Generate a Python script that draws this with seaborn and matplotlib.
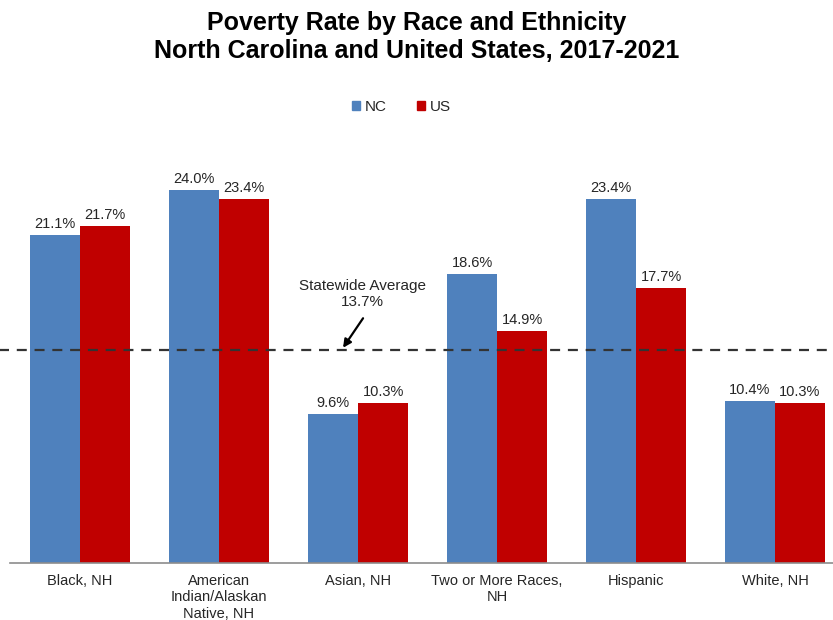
import matplotlib
matplotlib.use("Agg")
import matplotlib.pyplot as plt
import seaborn as sns
import pandas as pd
from matplotlib.patches import Patch

categories = ["Black, NH", "American\nIndian/Alaskan\nNative, NH", "Asian, NH",
              "Two or More Races,\nNH", "Hispanic", "White, NH"]
nc_values = [21.1, 24.0, 9.6, 18.6, 23.4, 10.4]
us_values = [21.7, 23.4, 10.3, 14.9, 17.7, 10.3]
series = ["NC", "US"]
statewide_avg = 13.7

sns.set_theme(style="white")
plt.rcParams['font.family'] = ['Liberation Sans', 'DejaVu Sans']

df = pd.DataFrame({
    "category": categories * 2,
    "value": nc_values + us_values,
    "series": [series[0]] * len(categories) + [series[1]] * len(categories),
})

fig = plt.figure(figsize=(8.33, 6.20), dpi=100)
ax = fig.add_axes([10/833, 57/620, 823/833, (563-174.5)/620])
palette = {"NC": "#4F81BD", "US": "#C00000"}
sns.barplot(data=df, x="category", y="value", hue="series", order=categories,
            hue_order=series, palette=palette, width=0.72, saturation=1,
            linewidth=0, ax=ax, legend=False)

for cont in ax.containers:
    ax.bar_label(cont, fmt="%.1f%%", padding=3, fontsize=10.5, color="#262626")

ax.set_ylim(0, 25)
ax.set_xlim(-0.504, 5.417)
ax.set_yticks([])
ax.set_xlabel("")
ax.set_ylabel("")
for s in ["top", "right", "left"]:
    ax.spines[s].set_visible(False)
ax.spines["bottom"].set_color("#8c8c8c")
ax.spines["bottom"].set_linewidth(1.2)
ax.tick_params(axis="x", length=0, pad=8, labelsize=10.5, colors="#262626")
ax.axhline(statewide_avg, color="#333333", lw=1.6, ls=(0, (4.5, 3.5)), xmin=-0.02, clip_on=False)

ax.text(2.03, 16.35, "Statewide Average\n13.7%", ha="center", va="bottom",
        fontsize=11, color="#262626", linespacing=1.15)
ax.annotate("", xy=(1.892, 13.85), xytext=(2.036, 15.75),
            arrowprops=dict(arrowstyle="-|>", color="black", lw=1.6, mutation_scale=12,
                            shrinkA=0, shrinkB=0))

fig.text(0.5, 1 - 37/620, "Poverty Rate by Race and Ethnicity\nNorth Carolina and United States, 2017-2021",
         ha="center", va="center", fontsize=18, fontweight="bold", color="black", linespacing=1.25)

handles = [Patch(color=palette[s], label=s) for s in series]
fig.legend(handles=handles, loc="center", bbox_to_anchor=(0.482, 1 - 107/620), ncol=2,
           frameon=False, fontsize=11, handlelength=0.5, handleheight=0.5,
           handletextpad=0.3, columnspacing=2.0)

fig.savefig("out.png", dpi=100)
